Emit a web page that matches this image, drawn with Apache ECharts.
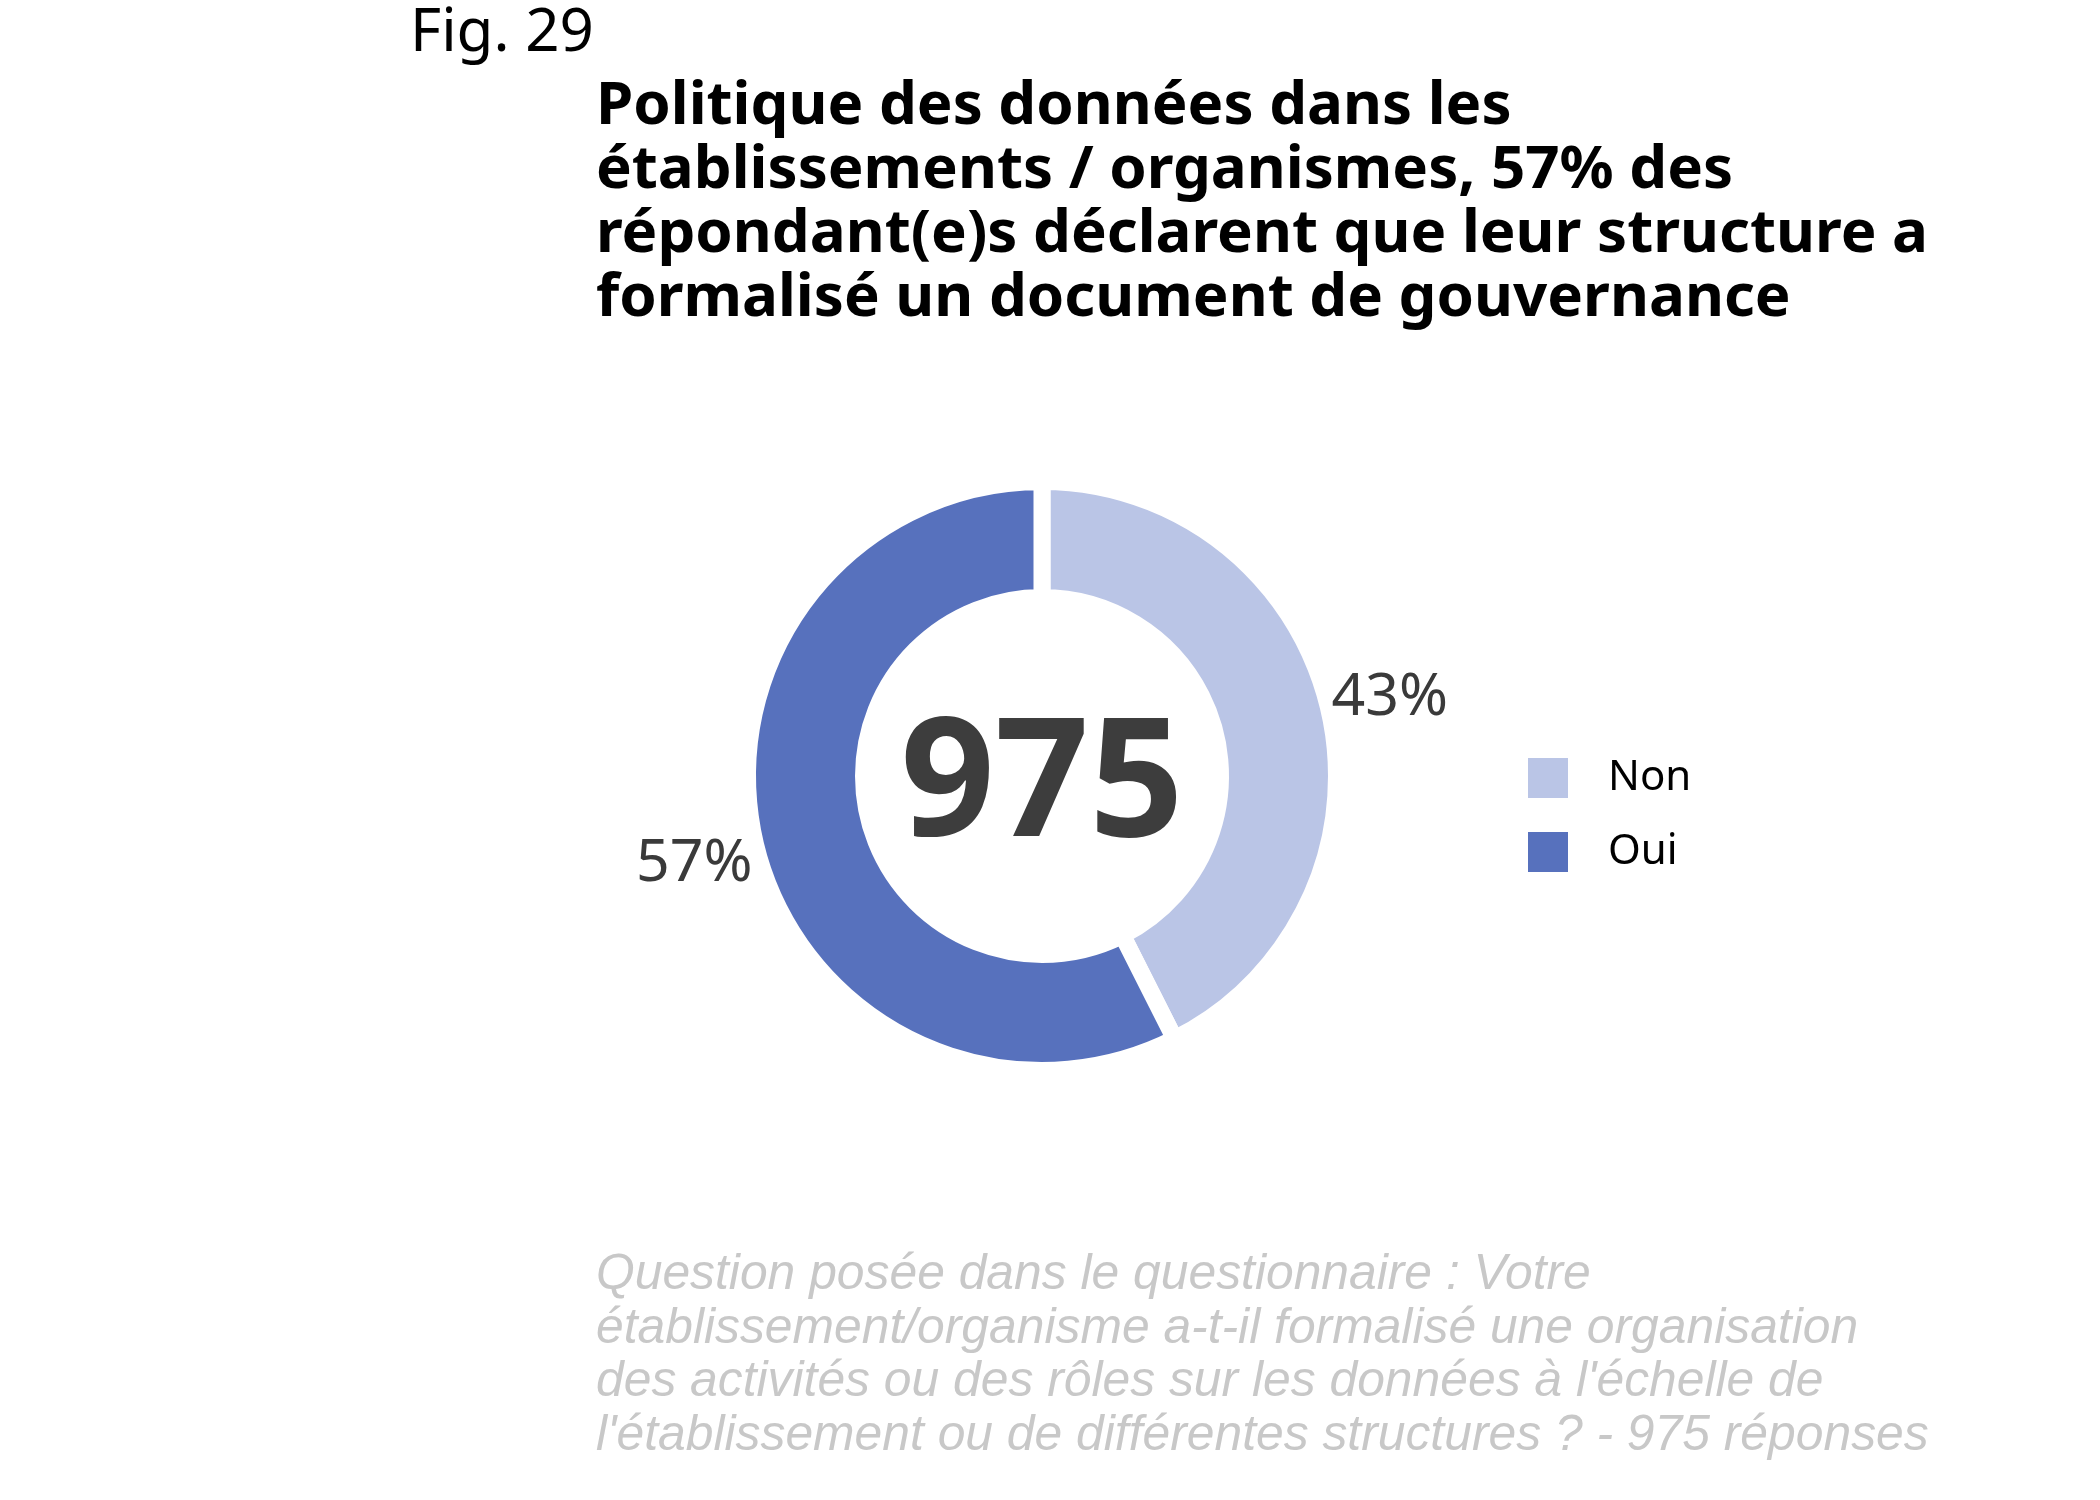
<!DOCTYPE html>
<html>
<head>
<meta charset="utf-8">
<script src="https://cdn.jsdelivr.net/npm/echarts@6/dist/echarts.min.js"></script>
<style>
html,body{margin:0;padding:0;background:#fff;}
#chart{width:2100px;height:1500px;}
</style>
</head>
<body>
<div id="chart"></div>
<script>
// ---- data ----
const categories = ['Non', 'Oui'];
const responseCounts = [415, 560];      // labels show rounded shares (43% / 57%)
const totalResponses = 975;
const colors = ['#bac5e6', '#5771bd'];
const figLabel = 'Fig. 29';
const titleText = 'Politique des données dans les\nétablissements / organismes, 57% des\nrépondant(e)s déclarent que leur structure a\nformalisé un document de gouvernance';
const captionText = "Question posée dans le questionnaire : Votre\nétablissement/organisme a-t-il formalisé une organisation\ndes activités ou des rôles sur les données à l'échelle de\nl'établissement ou de différentes structures ? - " + totalResponses + " réponses";

// ---- layout ----
const CX = 1042, CY = 776;
const GAP = 17;
const R_OUT = 286, R_IN = 187;
const LABEL_R = 354.5;

const chart = echarts.init(document.getElementById('chart'), null, {renderer: 'canvas'});
const pieData = categories.map((c, i) => ({name: c, value: responseCounts[i], itemStyle: {color: colors[i]}}));

chart.setOption({
  backgroundColor: '#ffffff',
  animation: false,
  title: [
    {
      text: figLabel, left: 410, top: 1, padding: 0,
      textStyle: {fontFamily: 'Noto Sans', fontWeight: 'normal', fontSize: 60, lineHeight: 65, color: '#000'}
    },
    {
      text: titleText, left: 596, top: 75, padding: 0,
      textStyle: {fontFamily: 'Noto Sans', fontWeight: 'bold', fontSize: 60, lineHeight: 64, color: '#000'}
    },
    {
      text: captionText, left: 596, top: 1248, padding: 0,
      textStyle: {fontFamily: 'Liberation Sans', fontStyle: 'italic', fontWeight: 'normal', fontSize: 49.8, lineHeight: 53.8, color: '#c8c8c8'}
    }
  ],
  legend: {
    orient: 'vertical', left: 1528, top: 757, padding: 0,
    itemWidth: 40, itemHeight: 40, itemGap: 32,
    icon: 'rect',
    data: categories,
    itemStyle: {borderWidth: 0},
    textStyle: {fontFamily: 'Noto Sans', fontSize: 42, lineHeight: 34, color: '#000', padding: [6, 0, 0, 35]}
  },
  graphic: [{
    type: 'text', x: CX, y: CY + 13, silent: true,
    style: {text: String(totalResponses), font: 'bold 165px "Noto Sans"', fill: '#3d3d3d', textAlign: 'center', textVerticalAlign: 'middle'}
  }],
  series: [
    {
      type: 'pie', center: [CX, CY], radius: [R_IN - GAP / 2, R_OUT + GAP / 2],
      startAngle: 90, clockwise: true, silent: true,
      itemStyle: {borderColor: '#ffffff', borderWidth: GAP},
      label: {show: false}, labelLine: {show: false},
      emphasis: {disabled: true},
      data: pieData
    },
    {
      type: 'pie', center: [CX, CY + 5], radius: [LABEL_R - 10, LABEL_R + 10],
      startAngle: 90, clockwise: true, silent: true,
      itemStyle: {color: 'rgba(0,0,0,0)', borderWidth: 0},
      label: {
        show: true, position: 'inside',
        formatter: p => Math.round(p.percent) + '%',
        fontFamily: 'Noto Sans', fontSize: 59, color: '#3a3a3a'
      },
      labelLine: {show: false},
      emphasis: {disabled: true},
      data: categories.map((c, i) => ({name: c, value: responseCounts[i]}))
    }
  ]
});
</script>
</body>
</html>
